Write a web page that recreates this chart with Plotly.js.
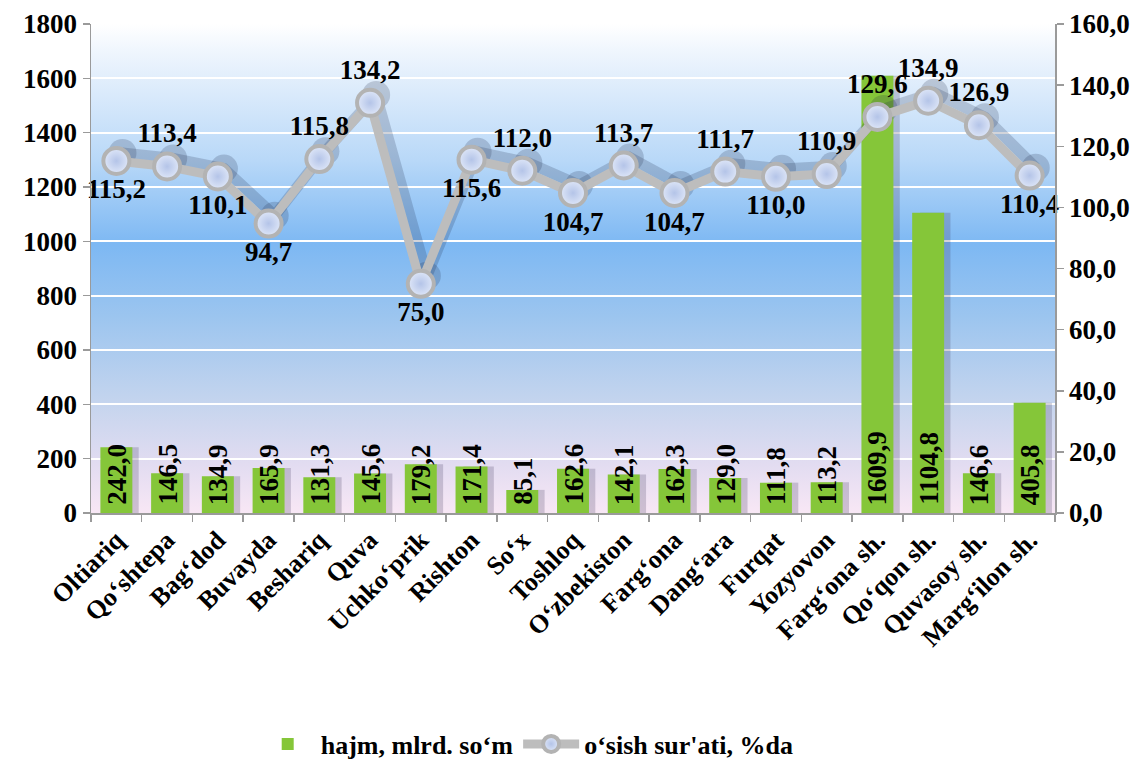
<!DOCTYPE html>
<html>
<head>
<meta charset="utf-8">
<script src="https://cdn.plot.ly/plotly-3.0.1.min.js"></script>
<style>
html,body{margin:0;padding:0;background:#fff;}
#chart{width:1145px;height:767px;}
</style>
</head>
<body>
<div id="chart"></div>
<script>
const categories = ["Oltiariq","Qo‘shtepa","Bag‘dod","Buvayda","Beshariq","Quva","Uchko‘prik","Rishton","So‘x","Toshloq","O‘zbekiston","Farg‘ona","Dang‘ara","Furqat","Yozyovon","Farg‘ona sh.","Qo‘qon sh.","Quvasoy sh.","Marg‘ilon sh."];
const volume = [242.0,146.5,134.9,165.9,131.3,145.6,179.2,171.4,85.1,162.6,142.1,162.3,129.0,111.8,113.2,1609.9,1104.8,146.6,405.8];
const growth = [115.2,113.4,110.1,94.7,115.8,134.2,75.0,115.6,112.0,104.7,113.7,104.7,111.7,110.0,110.9,129.6,134.9,126.9,110.4];
const growthLabelPos = ["bottom center","top center","bottom center","bottom center","top center","top center","bottom center","bottom center","top center","bottom center","top center","bottom center","top center","bottom center","top center","top center","top center","top center","bottom center"];
const leftTicks = [0,200,400,600,800,1000,1200,1400,1600,1800];
const rightTicks = [0,20,40,60,80,100,120,140,160];
const seriesNames = ["hajm, mlrd. so‘m","o‘sish sur'ati, %da"];

const FONT = "Liberation Serif";
const fmt = v => v.toFixed(1).replace('.', ',');
const N = categories.length;

const bgSvg = '<svg xmlns="http://www.w3.org/2000/svg" width="100" height="100" preserveAspectRatio="none">' +
 '<defs><linearGradient id="g" x1="0" y1="0" x2="0" y2="1">' +
 '<stop offset="0" stop-color="#ffffff"/>' +
 '<stop offset="0.06" stop-color="#eef5fd"/>' +
 '<stop offset="0.28" stop-color="#b8d8f8"/>' +
 '<stop offset="0.45" stop-color="#7db8f3"/>' +
 '<stop offset="0.6" stop-color="#9cc5ef"/>' +
 '<stop offset="0.78" stop-color="#c6d5ee"/>' +
 '<stop offset="0.9" stop-color="#e2dcf1"/>' +
 '<stop offset="1" stop-color="#f8e7f5"/>' +
 '</linearGradient></defs><rect width="100" height="100" fill="url(#g)"/></svg>';
const bgUri = 'data:image/svg+xml;base64,' + btoa(bgSvg);

// soft drop shadows (same data)
const barShadow = {
  type: 'bar', x: categories, y: volume, width: 0.6, offset: -0.16,
  marker: {color: 'rgba(60,50,85,0.22)', line: {width: 0}},
  showlegend: false, hoverinfo: 'skip', xaxis: 'x', yaxis: 'y'
};
const bars = {
  type: 'bar', name: seriesNames[0], x: categories, y: volume, width: 0.63, offset: -0.315,
  marker: {color: '#85c639', line: {width: 0}}, xaxis: 'x', yaxis: 'y'
};
const lineShadow = {
  type: 'scatter', mode: 'lines+markers', x: categories, y: growth,
  xaxis: 'x2', yaxis: 'y2',
  line: {color: 'rgba(30,40,70,0.2)', width: 11},
  marker: {size: 28, color: 'rgba(30,40,70,0.2)', line: {width: 0}},
  showlegend: false, hoverinfo: 'skip'
};
const line = {
  type: 'scatter', mode: 'lines+markers+text', name: seriesNames[1],
  x: categories, y: growth, xaxis: 'x3', yaxis: 'y3',
  line: {color: '#bdbdbd', width: 9},
  marker: {size: 26, color: '#dfe7f8', gradient: {type: 'radial', color: '#b4c4e8'}, line: {color: '#b3b3b3', width: 4}},
  text: growth.map(fmt), textposition: growthLabelPos,
  textfont: {family: FONT, size: 27, color: '#000', weight: 'bold'},
  cliponaxis: false
};

const annotations = categories.map((c, i) => ({
  x: c, y: 0, xref: 'x', yref: 'y', text: fmt(volume[i]), showarrow: false,
  textangle: -90, yanchor: 'bottom', xanchor: 'center', yshift: 6,
  font: {family: FONT, size: 27, color: '#000', weight: 'bold'}
}));

const axisCommon = {
  showline: true, linecolor: '#9a9a9a', linewidth: 1.5,
  ticks: 'outside', ticklen: 7, tickcolor: '#9a9a9a', tickwidth: 1.5,
  tickfont: {family: FONT, size: 27, color: '#000', weight: 'bold'},
  zeroline: false, automargin: false
};
const hidden = {visible: false, showgrid: false, zeroline: false, fixedrange: true};

const layout = {
  width: 1145, height: 767,
  margin: {l: 91, r: 90, t: 24, b: 254},
  paper_bgcolor: '#ffffff', plot_bgcolor: 'rgba(0,0,0,0)',
  separators: ', ',
  barmode: 'overlay',
  font: {family: FONT, color: '#000'},
  images: [{source: bgUri, xref: 'paper', yref: 'paper', x: 0, y: 1, sizex: 1, sizey: 1, sizing: 'stretch', layer: 'below', xanchor: 'left', yanchor: 'top'}],
  xaxis: Object.assign({}, axisCommon, {
    type: 'category', range: [-0.5, N - 0.5], tickangle: -45, tickson: 'boundaries', showgrid: false,
    tickfont: {family: FONT, size: 26, color: '#000', weight: 'bold'}
  }),
  xaxis2: Object.assign({}, hidden, {type: 'category', overlaying: 'x', range: [-0.62, N - 0.62]}),
  xaxis3: Object.assign({}, hidden, {type: 'category', overlaying: 'x', range: [-0.5, N - 0.5]}),
  yaxis: Object.assign({}, axisCommon, {
    range: [0, 1800], tickvals: leftTicks, showgrid: true, gridcolor: '#ffffff', gridwidth: 2
  }),
  yaxis2: Object.assign({}, hidden, {overlaying: 'y', range: [-2.6, 157.4]}),
  yaxis3: Object.assign({}, axisCommon, {
    range: [0, 160], tickvals: rightTicks, tickformat: '.1f', overlaying: 'y', side: 'right', showgrid: false, anchor: 'x'
  }),
  legend: {
    orientation: 'h', xref: 'container', yref: 'container',
    x: 0.46, xanchor: 'center', y: 0.03, yanchor: 'middle',
    font: {family: FONT, size: 26, color: '#000', weight: 'bold'},
    bgcolor: 'rgba(0,0,0,0)', itemwidth: 56, traceorder: 'normal'
  },
  annotations: annotations,
  showlegend: true
};

Plotly.newPlot('chart', [barShadow, bars, lineShadow, line], layout, {displayModeBar: false, staticPlot: true});
</script>
</body>
</html>
